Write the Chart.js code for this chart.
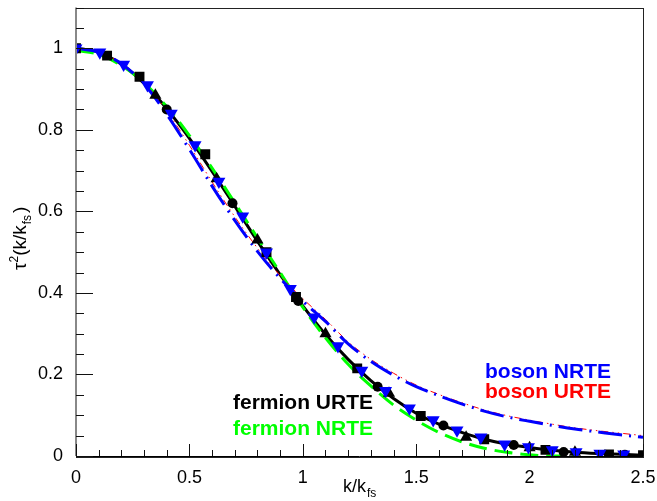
<!DOCTYPE html>
<html>
<head>
<meta charset="utf-8">
<script src="https://cdn.jsdelivr.net/npm/chart.js@4.4.1/dist/chart.umd.min.js"></script>
<style>
  body { margin: 0; background: #fff; }
  #wrap { width: 657px; height: 501px; }
</style>
</head>
<body>
<div id="wrap"><canvas id="tauChart" width="657" height="501"></canvas></div>
<script>
// curves, every 0.1 in k/k_fs
const kLine = [0, 0.1, 0.2, 0.3, 0.4, 0.5, 0.6, 0.7, 0.8, 0.9, 1.0, 1.1, 1.2,
               1.3, 1.4, 1.5, 1.6, 1.7, 1.8, 1.9, 2.0, 2.1, 2.2, 2.3, 2.4, 2.5];
const fermionURTE = [1.0, 0.99, 0.961, 0.914, 0.852, 0.779, 0.698, 0.613, 0.527, 0.445, 0.368, 0.298, 0.237,
                     0.185, 0.141, 0.105, 0.078, 0.058, 0.041, 0.029, 0.021, 0.014, 0.009, 0.006, 0.004, 0.002];
const fermionNRTE = [0.995, 0.985, 0.958, 0.915, 0.857, 0.786, 0.706, 0.621, 0.535, 0.45, 0.365, 0.29, 0.225,
                     0.172, 0.125, 0.088, 0.058, 0.035, 0.019, 0.009, 0.003, 0.0, 0.0, null, null, null];
const bosonNRTE = [1.0, 0.99, 0.962, 0.912, 0.838, 0.752, 0.662, 0.578, 0.502, 0.436, 0.38, 0.33, 0.275,
                   0.232, 0.198, 0.17, 0.148, 0.128, 0.11, 0.096, 0.085, 0.075, 0.066, 0.059, 0.052, 0.046];
const bosonURTE = [1.0, 0.99, 0.963, 0.916, 0.846, 0.762, 0.672, 0.587, 0.51, 0.443, 0.386, 0.335, 0.28,
                   0.237, 0.203, 0.174, 0.151, 0.131, 0.113, 0.099, 0.088, 0.078, 0.069, 0.062, 0.056, 0.05];

// fermion URTE points (three marker sets)
const kSquares = [0, 0.137, 0.28, 0.57, 0.84, 0.97, 1.24, 1.52, 1.8, 2.07, 2.35, 2.5];
const vSquares = [1.0, 0.982, 0.93, 0.74, 0.5, 0.39, 0.215, 0.098, 0.041, 0.015, 0.004, 0.002];
const kCircles = [0.4, 0.69, 0.98, 1.33, 1.62, 1.93, 2.15, 2.42];
const vCircles = [0.85, 0.62, 0.38, 0.17, 0.075, 0.027, 0.01, 0.003];
const kTriangles = [0.35, 0.62, 0.8, 1.1, 1.38, 1.72, 2.0, 2.2];
const vTriangles = [0.885, 0.68, 0.53, 0.3, 0.154, 0.046, 0.02, 0.009];

// boson NRTE points
const kBosonPts = [0, 0.105, 0.21, 0.315, 0.42, 0.525, 0.63, 0.735, 0.84, 0.945, 1.05, 1.155,
                   1.26, 1.365, 1.47, 1.575, 1.68, 1.785, 1.89, 1.995, 2.1, 2.205, 2.31, 2.415];
const vBosonPts = [1.0, 0.99, 0.96, 0.91, 0.84, 0.763, 0.673, 0.588, 0.5, 0.41, 0.34, 0.27,
                   0.21, 0.16, 0.117, 0.088, 0.063, 0.046, 0.029, 0.022, 0.015, 0.01, 0.006, 0.004];

const xTicks = [0, 0.5, 1, 1.5, 2, 2.5];
const yTicks = [0, 0.2, 0.4, 0.6, 0.8, 1];

const FONT = "'Liberation Sans', Arial, Helvetica, sans-serif";
const pts = (xs, ys) => xs.map((x, i) => ({ x: x, y: ys[i] }));

const rootDeco = {
    id: 'rootDeco',
    afterDraw(chart) {
        const ctx = chart.ctx;
        const a = chart.chartArea;
        const xs = chart.scales.x, ys = chart.scales.y;
        ctx.save();
        // frame
        ctx.strokeStyle = '#222';
        ctx.lineWidth = 1;
        ctx.strokeRect(Math.round(a.left) + 0.5, Math.round(a.top) + 0.5,
                       Math.round(a.right - a.left), Math.round(a.bottom - a.top));
        ctx.strokeStyle = '#888';
        ctx.lineWidth = 2;
        ctx.beginPath();
        ctx.moveTo(a.left, a.top); ctx.lineTo(a.left, a.bottom);
        ctx.stroke();
        ctx.strokeStyle = '#000';
        ctx.lineWidth = 1;
        ctx.beginPath();
        ctx.moveTo(a.left, a.bottom + 0.5); ctx.lineTo(a.right, a.bottom + 0.5);
        ctx.stroke();

        // ticks inside the frame
        ctx.lineWidth = 1;
        ctx.strokeStyle = '#111';
        ctx.beginPath();
        for (let i = 0; i <= 25; i++) {
            const px = Math.round(xs.getPixelForValue(i * 0.1)) + 0.5;
            const len = (i % 5 === 0) ? 12 : 6;
            ctx.moveTo(px, a.bottom); ctx.lineTo(px, a.bottom - len);
        }
        for (let i = 0; i <= 22; i++) {
            const py = Math.round(ys.getPixelForValue(i * 0.05)) + 0.5;
            const len = (i % 4 === 0) ? 17 : 8;
            ctx.moveTo(a.left, py); ctx.lineTo(a.left + len, py);
        }
        ctx.stroke();

        // labels in the plot
        ctx.font = 'bold 21px ' + FONT;
        ctx.textBaseline = 'alphabetic';
        ctx.fillStyle = '#000000';
        ctx.fillText('fermion URTE', 233, 409);
        ctx.fillStyle = '#00ff00';
        ctx.fillText('fermion NRTE', 233, 435);
        ctx.fillStyle = '#0000ff';
        ctx.fillText('boson NRTE', 485, 378);
        ctx.fillStyle = '#ff0000';
        ctx.fillText('boson URTE', 485, 398);

        // x title
        ctx.fillStyle = '#000';
        ctx.font = '18px ' + FONT;
        ctx.fillText('k/k', 343, 492);
        let w = ctx.measureText('k/k').width;
        ctx.font = '12px ' + FONT;
        ctx.fillText('fs', 343 + w + 1, 497);

        // y title (rotated)
        ctx.translate(26, 270);
        ctx.rotate(-Math.PI / 2);
        let x = 0;
        ctx.font = '19px ' + FONT;
        ctx.fillText('\u03c4', x, 0); x += ctx.measureText('\u03c4').width;
        ctx.font = '12px ' + FONT;
        ctx.fillText('2', x, -8); x += ctx.measureText('2').width;
        ctx.font = '19px ' + FONT;
        ctx.fillText('(k/k', x, 0); x += ctx.measureText('(k/k').width;
        ctx.font = '12px ' + FONT;
        ctx.fillText('fs', x + 1, 5); x += ctx.measureText('fs').width + 3;
        ctx.font = '19px ' + FONT;
        ctx.fillText(')', x, 0);
        ctx.restore();
    }
};

const ctx = document.getElementById('tauChart').getContext('2d');
new Chart(ctx, {
    type: 'line',
    data: {
        datasets: [
            {
                label: 'boson NRTE points', data: pts(kBosonPts, vBosonPts), showLine: false,
                pointStyle: 'triangle', rotation: 180, pointRadius: 7.5,
                backgroundColor: '#0000ff', borderColor: '#0000ff', borderWidth: 0, order: 0
            },
            {
                label: 'squares', data: pts(kSquares, vSquares), showLine: false,
                pointStyle: 'rect', pointRadius: 7,
                backgroundColor: '#000', borderColor: '#000', borderWidth: 0, order: 1
            },
            {
                label: 'circles', data: pts(kCircles, vCircles), showLine: false,
                pointStyle: 'circle', pointRadius: 5,
                backgroundColor: '#000', borderColor: '#000', borderWidth: 0, order: 1
            },
            {
                label: 'triangles', data: pts(kTriangles, vTriangles), showLine: false,
                pointStyle: 'triangle', pointRadius: 7,
                backgroundColor: '#000', borderColor: '#000', borderWidth: 0, order: 1
            },
            {
                label: 'boson NRTE', data: pts(kLine, bosonNRTE), borderColor: '#0000ff',
                borderWidth: 3, borderDash: [24, 7, 2, 7], pointRadius: 0,
                cubicInterpolationMode: 'monotone', order: 2
            },
            {
                label: 'boson URTE', data: pts(kLine, bosonURTE), borderColor: '#ff0000',
                borderWidth: 1, borderDash: [7, 4, 1.5, 4, 1.5, 4], pointRadius: 0,
                cubicInterpolationMode: 'monotone', order: 3
            },
            {
                label: 'fermion NRTE', data: pts(kLine, fermionNRTE), borderColor: '#00ff00',
                borderWidth: 3, borderDash: [18, 8], pointRadius: 0, spanGaps: false,
                cubicInterpolationMode: 'monotone', order: 4
            },
            {
                label: 'fermion URTE', data: pts(kLine, fermionURTE), borderColor: '#000',
                borderWidth: 3, pointRadius: 0,
                cubicInterpolationMode: 'monotone', order: 5
            }
        ]
    },
    options: {
        responsive: false,
        animation: false,
        layout: { padding: { top: 5, right: 14, left: 0, bottom: 0 } },
        plugins: { legend: { display: false }, tooltip: { enabled: false } },
        scales: {
            x: {
                type: 'linear', min: 0, max: 2.5,
                afterFit: s => { s.height = 45; s.paddingLeft = 0; s.paddingRight = 0; },
                afterBuildTicks: s => { s.ticks = xTicks.map(v => ({ value: v })); },
                ticks: {
                    padding: 3, maxRotation: 0, color: '#000',
                    font: { family: FONT, size: 18 },
                    callback: v => String(v)
                },
                grid: { display: false }, border: { display: false }
            },
            y: {
                min: 0, max: 1.1,
                afterFit: s => { s.width = 76; s.paddingTop = 0; s.paddingBottom = 0; },
                afterBuildTicks: s => { s.ticks = yTicks.map(v => ({ value: v })); },
                ticks: {
                    padding: 5, color: '#000',
                    font: { family: FONT, size: 18 },
                    callback: v => String(v)
                },
                grid: { display: false }, border: { display: false }
            }
        }
    },
    plugins: [rootDeco]
});
</script>
</body>
</html>
